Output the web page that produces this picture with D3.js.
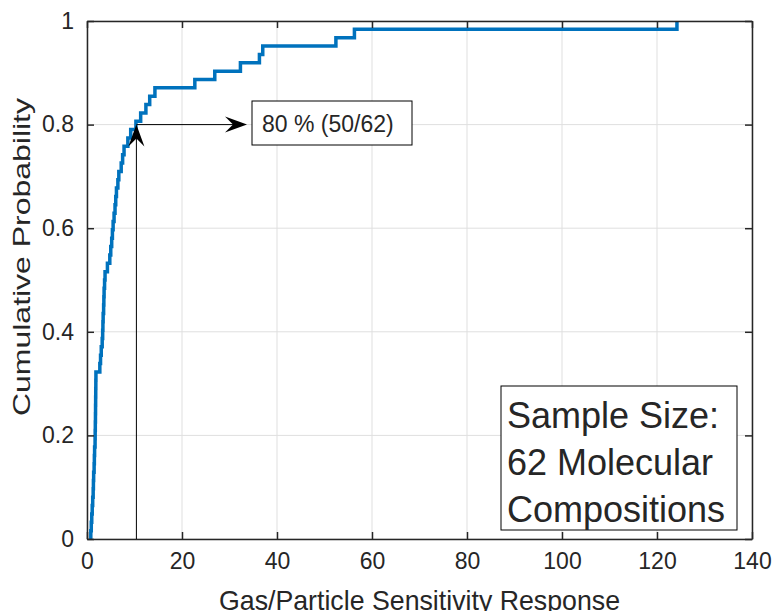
<!DOCTYPE html>
<html>
<head>
<meta charset="utf-8">
<script src="https://cdn.jsdelivr.net/npm/d3@7"></script>
<style>
  body { margin: 0; background: #fff; }
  text { font-family: "Liberation Sans", Arial, sans-serif; fill: #262626; }
</style>
</head>
<body>
<div id="chart"></div>
<script>
// sorted sensitivity responses (62 compositions)
const responses = [
  0.8, 0.9, 1.0, 1.1, 1.2, 1.3, 1.35, 1.4, 1.5, 1.55,
  1.6, 1.7, 1.72, 1.75, 1.78, 1.8, 1.82, 1.84, 1.86, 1.88,
  2.7, 2.85, 3.0, 3.2, 3.3, 3.35, 3.4, 3.5, 3.55, 3.6,
  3.7, 3.8, 4.3, 4.8, 5.0, 5.2, 5.35, 5.5, 5.7, 5.9,
  6.05, 6.2, 6.5, 6.7, 7.2, 7.5, 7.8, 8.6, 9.2, 10.3,
  11.3, 12.4, 13.2, 14.3, 22.7, 26.9, 32.3, 36.3, 37.0, 52.4,
  56.3, 124.2
];
const xTicks = [0, 20, 40, 60, 80, 100, 120, 140];
const yTicks = [0, 0.2, 0.4, 0.6, 0.8, 1];
const arrowPoint = [10.4, 0.8];
const arrowLabel = "80 % (50/62)";
const sampleLines = ["Sample Size:", "62 Molecular", "Compositions"];

const width = 774, height = 611;
const margin = { left: 87, top: 21, right: 22, bottom: 72 };

const svg = d3.select("#chart").append("svg")
  .attr("width", width).attr("height", height);

const x = d3.scaleLinear().domain([0, 140]).range([margin.left, width - margin.right]);
const y = d3.scaleLinear().domain([0, 1]).range([height - margin.bottom, margin.top]);

// grid
svg.append("g").selectAll("line").data(xTicks).join("line")
  .attr("x1", d => x(d)).attr("x2", d => x(d))
  .attr("y1", y(0)).attr("y2", y(1))
  .attr("stroke", "#dfdfdf").attr("stroke-width", 1);
svg.append("g").selectAll("line").data(yTicks).join("line")
  .attr("x1", x(0)).attr("x2", x(140))
  .attr("y1", d => y(d)).attr("y2", d => y(d))
  .attr("stroke", "#dfdfdf").attr("stroke-width", 1);

// ecdf stairs
const n = responses.length;
const pts = [[responses[0], 0]].concat(responses.map((v, i) => [v, (i + 1) / n]));
const line = d3.line().x(d => x(d[0])).y(d => y(d[1])).curve(d3.curveStepAfter);
svg.append("path")
  .datum(pts)
  .attr("d", line)
  .attr("fill", "none")
  .attr("stroke", "#0072bd")
  .attr("stroke-width", 3.5);

// axes (ticks inside, box on)
const tickLen = 7;
const axisStyle = g => {
  g.select(".domain").attr("stroke", "#262626").attr("stroke-width", 1.5);
  g.selectAll(".tick line").attr("stroke", "#262626").attr("stroke-width", 1.5);
  g.selectAll(".tick text").attr("font-size", 23).attr("fill", "#262626")
    .attr("font-family", "Liberation Sans, Arial, sans-serif");
};
svg.append("g")
  .attr("transform", `translate(0,${y(0)})`)
  .call(d3.axisBottom(x).tickValues(xTicks).tickSizeInner(-tickLen).tickSizeOuter(0).tickPadding(14))
  .call(axisStyle);
svg.append("g")
  .attr("transform", `translate(0,${y(1)})`)
  .call(d3.axisTop(x).tickValues(xTicks).tickSizeInner(-tickLen).tickSizeOuter(0).tickFormat(""))
  .call(axisStyle);
svg.append("g")
  .attr("transform", `translate(${x(0)},0)`)
  .call(d3.axisLeft(y).tickValues(yTicks).tickSizeInner(-tickLen).tickSizeOuter(0).tickPadding(13)
    .tickFormat(d => d === 0 || d === 1 ? d3.format("d")(d) : d3.format(".1f")(d)))
  .call(axisStyle);
svg.append("g")
  .attr("transform", `translate(${x(140)},0)`)
  .call(d3.axisRight(y).tickValues(yTicks).tickSizeInner(-tickLen).tickSizeOuter(0).tickFormat(""))
  .call(axisStyle);

// axis labels
svg.append("text")
  .attr("x", (x(0) + x(140)) / 2).attr("y", 610)
  .attr("text-anchor", "middle").attr("font-size", 28)
  .attr("textLength", 401).attr("lengthAdjust", "spacingAndGlyphs")
  .text("Gas/Particle Sensitivity Response");
svg.append("text")
  .attr("transform", "translate(30,257) rotate(-90)")
  .attr("text-anchor", "middle").attr("font-size", 24)
  .attr("textLength", 318).attr("lengthAdjust", "spacingAndGlyphs")
  .text("Cumulative Probability");

// annotation arrows
const arrowHead = (g, tx, ty, angle) => {
  g.append("path")
    .attr("d", "M0,0 L-22,-8 L-14,0 L-22,8 Z")
    .attr("transform", `translate(${tx},${ty}) rotate(${angle})`)
    .attr("fill", "#000");
};
const ann = svg.append("g");
const ax = x(arrowPoint[0]), ay = y(arrowPoint[1]);
ann.append("line")
  .attr("x1", ax).attr("x2", ax).attr("y1", y(0)).attr("y2", ay + 10)
  .attr("stroke", "#000").attr("stroke-width", 1);
arrowHead(ann, ax, ay, -90);
const boxX = 252, boxY = 101, boxW = 160, boxH = 44;
ann.append("line")
  .attr("x1", ax).attr("x2", boxX - 15).attr("y1", ay).attr("y2", ay)
  .attr("stroke", "#000").attr("stroke-width", 1);
arrowHead(ann, boxX - 5, ay, 0);
ann.append("rect")
  .attr("x", boxX).attr("y", boxY).attr("width", boxW).attr("height", boxH)
  .attr("fill", "#fff").attr("stroke", "#000").attr("stroke-width", 1);
ann.append("text")
  .attr("x", boxX + 10).attr("y", boxY + 31)
  .attr("font-size", 23).attr("fill", "#000")
  .text(arrowLabel);

// sample size box
const sb = svg.append("g");
sb.append("rect")
  .attr("x", 501).attr("y", 386).attr("width", 236).attr("height", 144)
  .attr("fill", "#fff").attr("stroke", "#000").attr("stroke-width", 1);
sb.selectAll("text").data(sampleLines).join("text")
  .attr("x", 507).attr("y", (d, i) => 428 + i * 47)
  .attr("font-size", 36).attr("fill", "#000")
  .text(d => d);
</script>
</body>
</html>
